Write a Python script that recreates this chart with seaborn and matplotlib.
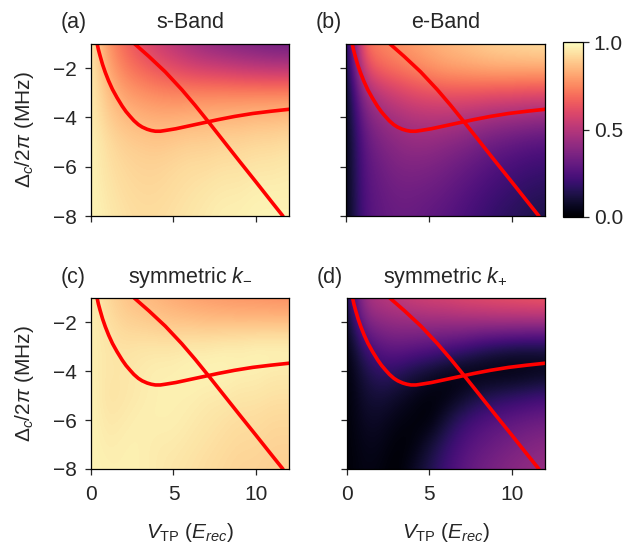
import numpy as np
import pandas as pd
import matplotlib
matplotlib.use("Agg")
import matplotlib.pyplot as plt
import seaborn as sns

# ---------------------------------------------------------------- data
# band weights tabulated on a regular grid
v_grid = list(range(0, 13))                          # V_TP (E_rec): 0 ... 12
det_grid = [-1, -2, -3, -4, -5, -6, -7, -8]          # Delta_c / 2pi (MHz)

# rows follow det_grid, columns follow v_grid
s_band = [
    [0.96, 0.78, 0.68, 0.61, 0.55, 0.50, 0.45, 0.41, 0.38, 0.36, 0.34, 0.32, 0.31],
    [0.97, 0.82, 0.73, 0.68, 0.64, 0.61, 0.58, 0.56, 0.55, 0.53, 0.52, 0.51, 0.51],
    [0.97, 0.87, 0.80, 0.77, 0.75, 0.74, 0.74, 0.74, 0.74, 0.74, 0.74, 0.74, 0.74],
    [0.97, 0.90, 0.86, 0.84, 0.83, 0.83, 0.84, 0.84, 0.85, 0.85, 0.86, 0.86, 0.87],
    [0.98, 0.93, 0.90, 0.89, 0.88, 0.89, 0.90, 0.90, 0.91, 0.91, 0.92, 0.92, 0.93],
    [0.98, 0.94, 0.92, 0.91, 0.91, 0.92, 0.93, 0.93, 0.94, 0.94, 0.95, 0.95, 0.96],
    [0.98, 0.95, 0.93, 0.92, 0.92, 0.93, 0.94, 0.95, 0.96, 0.96, 0.97, 0.97, 0.97],
    [0.98, 0.96, 0.94, 0.93, 0.93, 0.94, 0.95, 0.96, 0.97, 0.97, 0.98, 0.98, 0.98],
]
e_band = [
    [0.05, 0.70, 0.74, 0.77, 0.80, 0.83, 0.85, 0.87, 0.89, 0.91, 0.92, 0.93, 0.94],
    [0.03, 0.58, 0.68, 0.71, 0.74, 0.77, 0.80, 0.81, 0.82, 0.83, 0.83, 0.83, 0.83],
    [0.02, 0.42, 0.52, 0.57, 0.61, 0.63, 0.64, 0.64, 0.64, 0.63, 0.63, 0.62, 0.62],
    [0.02, 0.33, 0.42, 0.46, 0.49, 0.50, 0.50, 0.49, 0.47, 0.45, 0.44, 0.43, 0.42],
    [0.02, 0.28, 0.36, 0.40, 0.42, 0.42, 0.40, 0.38, 0.35, 0.32, 0.30, 0.28, 0.27],
    [0.02, 0.26, 0.32, 0.36, 0.37, 0.36, 0.34, 0.31, 0.28, 0.25, 0.23, 0.21, 0.20],
    [0.02, 0.25, 0.30, 0.33, 0.33, 0.32, 0.30, 0.27, 0.24, 0.21, 0.19, 0.17, 0.16],
    [0.02, 0.24, 0.29, 0.31, 0.31, 0.29, 0.27, 0.24, 0.21, 0.18, 0.16, 0.14, 0.13],
]
sym_minus = [
    [0.97, 0.92, 0.88, 0.86, 0.84, 0.82, 0.80, 0.79, 0.78, 0.77, 0.77, 0.76, 0.76],
    [0.97, 0.94, 0.91, 0.90, 0.89, 0.88, 0.88, 0.87, 0.87, 0.87, 0.87, 0.87, 0.87],
    [0.97, 0.95, 0.94, 0.95, 0.95, 0.95, 0.96, 0.96, 0.97, 0.97, 0.98, 0.98, 0.98],
    [0.97, 0.95, 0.95, 0.96, 0.97, 0.97, 0.98, 0.98, 0.98, 0.97, 0.97, 0.96, 0.96],
    [0.98, 0.94, 0.95, 0.96, 0.97, 0.97, 0.97, 0.96, 0.96, 0.95, 0.95, 0.94, 0.94],
    [0.98, 0.95, 0.96, 0.97, 0.97, 0.97, 0.96, 0.95, 0.94, 0.93, 0.93, 0.92, 0.92],
    [0.98, 0.96, 0.97, 0.97, 0.96, 0.96, 0.95, 0.94, 0.93, 0.92, 0.92, 0.91, 0.91],
    [0.98, 0.97, 0.97, 0.97, 0.96, 0.95, 0.94, 0.93, 0.92, 0.91, 0.91, 0.90, 0.90],
]
sym_plus = [
    [0.10, 0.46, 0.50, 0.53, 0.56, 0.58, 0.59, 0.61, 0.62, 0.63, 0.64, 0.65, 0.66],
    [0.04, 0.35, 0.40, 0.42, 0.42, 0.43, 0.43, 0.44, 0.44, 0.45, 0.45, 0.45, 0.45],
    [0.02, 0.20, 0.28, 0.30, 0.29, 0.27, 0.25, 0.22, 0.18, 0.15, 0.13, 0.12, 0.12],
    [0.01, 0.12, 0.18, 0.17, 0.12, 0.09, 0.05, 0.03, 0.02, 0.01, 0.01, 0.02, 0.03],
    [0.01, 0.09, 0.11, 0.08, 0.05, 0.02, 0.02, 0.07, 0.12, 0.15, 0.17, 0.19, 0.21],
    [0.01, 0.07, 0.07, 0.04, 0.02, 0.01, 0.11, 0.19, 0.24, 0.27, 0.29, 0.31, 0.32],
    [0.01, 0.05, 0.05, 0.01, 0.02, 0.10, 0.18, 0.25, 0.29, 0.32, 0.35, 0.37, 0.39],
    [0.01, 0.04, 0.03, 0.00, 0.07, 0.14, 0.22, 0.28, 0.33, 0.36, 0.39, 0.41, 0.43],
]

# resonance lines
line1_v = [2.62, 3.50, 4.50, 5.50, 6.30, 7.13, 8.00, 9.00, 10.00, 11.00, 11.63]
line1_d = [-1.00, -1.52, -2.15, -2.87, -3.50, -4.19, -4.93, -5.78, -6.62, -7.47, -8.00]
line2_v = [0.37, 0.45, 0.55, 0.70, 0.87, 1.07, 1.30, 1.58, 1.89, 2.12, 2.36, 2.60,
           2.87, 3.10, 3.40, 3.65, 3.90, 4.20, 4.50, 5.14, 5.90, 6.80, 7.70, 8.70,
           9.80, 10.90, 12.00]
line2_d = [-1.00, -1.25, -1.50, -1.85, -2.18, -2.52, -2.86, -3.20, -3.54, -3.76,
           -3.95, -4.13, -4.29, -4.39, -4.48, -4.53, -4.56, -4.56, -4.53, -4.46,
           -4.35, -4.22, -4.09, -3.96, -3.84, -3.75, -3.67]

titles = ["s-Band", "e-Band", r"symmetric $k_{-}$", r"symmetric $k_{+}$"]
tags = ["(a)", "(b)", "(c)", "(d)"]
x_ticks = [0, 5, 10]
y_ticks = [-2, -4, -6, -8]
cbar_ticks = [0.0, 0.5, 1.0]

# ---------------------------------------------------------------- style
sns.set_style("ticks")
plt.rcParams["font.family"] = ["Liberation Sans", "DejaVu Sans"]
plt.rcParams["mathtext.fontset"] = "custom"
plt.rcParams["mathtext.rm"] = "Liberation Sans"
plt.rcParams["mathtext.it"] = "Liberation Sans:italic"
plt.rcParams["mathtext.bf"] = "Liberation Sans:bold"
plt.rcParams["font.size"] = 15
plt.rcParams["axes.linewidth"] = 0.9
plt.rcParams["axes.edgecolor"] = "black"

TICK_FS = 15
LABEL_FS = 15
TITLE_FS = 15.5

W, H = 628, 543
fig = plt.figure(figsize=(W / 100, H / 100), dpi=100)


def px_axes(left, top, right, bottom):
    return fig.add_axes([left / W, 1 - bottom / H, (right - left) / W, (bottom - top) / H])


boxes = [(91, 43.5, 289, 216), (346, 43.5, 545, 216),
         (91, 298, 289, 469), (346.5, 298, 545, 469)]
fields = [s_band, e_band, sym_minus, sym_plus]

lines = pd.concat([
    pd.DataFrame({"v": line1_v, "d": line1_d, "branch": "1"}),
    pd.DataFrame({"v": line2_v, "d": line2_d, "branch": "2"}),
])

# cell centres sit on the grid values
dv = v_grid[1] - v_grid[0]
dd = det_grid[0] - det_grid[1]
extent = (v_grid[0] - dv / 2, v_grid[-1] + dv / 2,
          det_grid[-1] - dd / 2, det_grid[0] + dd / 2)

image_b = None
for i, (box, field) in enumerate(zip(boxes, fields)):
    ax = px_axes(*box)
    im = ax.imshow(np.array(field), cmap="magma", vmin=0, vmax=1, origin="upper",
                   extent=extent, aspect="auto", interpolation="bicubic")
    if i == 1:
        image_b = im
    sns.lineplot(data=lines, x="v", y="d", units="branch", estimator=None,
                 color="#ff0000", lw=2.6, sort=False, ax=ax, legend=False)
    ax.set_xlim(0, 12)
    ax.set_ylim(-8, -1)
    ax.set_xticks(x_ticks)
    ax.set_yticks(y_ticks)
    ax.tick_params(direction="out", length=4.5, width=0.9, labelsize=TICK_FS, pad=6)
    ax.tick_params(axis="x", pad=7)
    row, col = divmod(i, 2)
    if row == 1:
        ax.set_xlabel(r"$V_{\rm TP}$ ($E_{rec}$)", fontsize=LABEL_FS, labelpad=12)
    else:
        ax.set_xlabel("")
        ax.set_xticklabels([])
    if col == 0:
        ax.set_ylabel(r"$\Delta_c/2\pi$ (MHz)", fontsize=LABEL_FS, labelpad=12)
    else:
        ax.set_ylabel("")
        ax.set_yticklabels([])
    ax.text(0.5, 1.09, titles[i], transform=ax.transAxes, ha="center",
            va="baseline", fontsize=TITLE_FS)
    ax.text(-0.152, 1.09, tags[i], transform=ax.transAxes, ha="left",
            va="baseline", fontsize=TITLE_FS)
    for s in ax.spines.values():
        s.set_visible(True)
        s.set_zorder(5)

cax = px_axes(563.3, 42.3, 583.3, 216.7)
cb = fig.colorbar(image_b, cax=cax, ticks=cbar_ticks)
cb.ax.set_yticklabels([f"{t:.1f}" for t in cbar_ticks])
cb.ax.tick_params(direction="out", length=4.5, width=0.9, labelsize=TICK_FS, pad=3)
cb.outline.set_linewidth(0.9)

fig.savefig("out.png", dpi=100)
